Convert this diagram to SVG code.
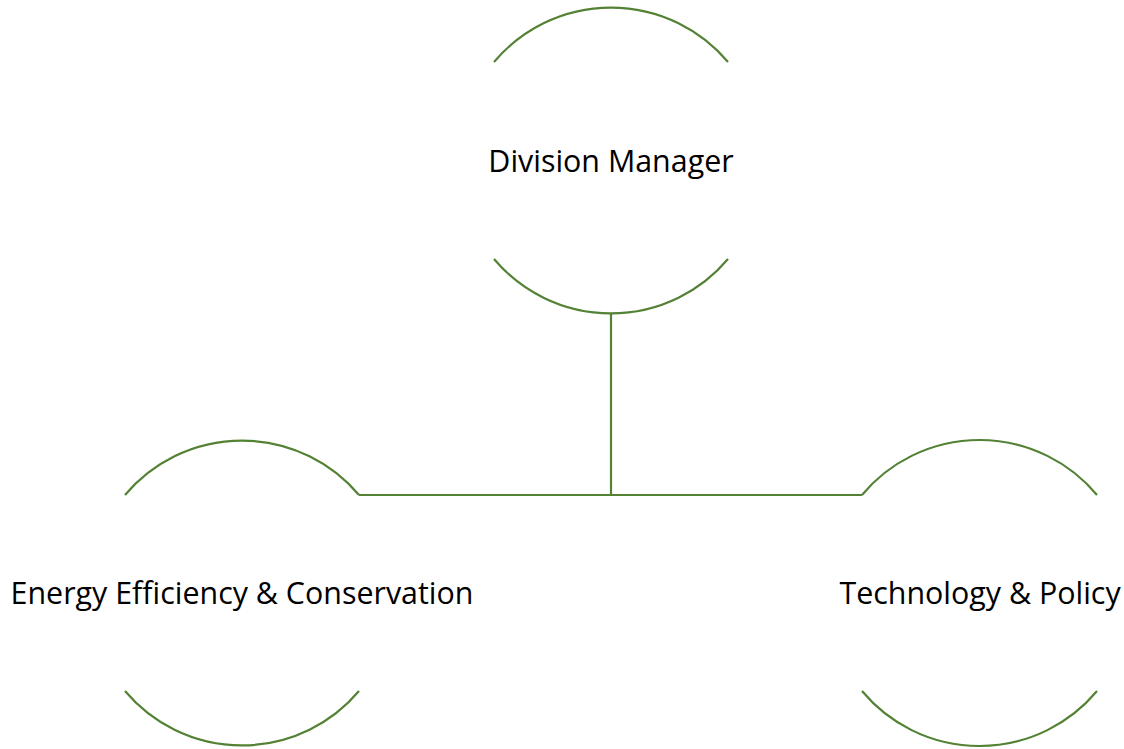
<svg xmlns="http://www.w3.org/2000/svg" width="1124" height="749" viewBox="0 0 1124 749">
<style>
.arc{fill:none;stroke:#548235;stroke-width:2.2}
.conn{fill:none;stroke:#548235;stroke-width:2.2}
.lbl{font-family:"Open Sans","Noto Sans",sans-serif;font-size:30.4px;fill:#000;text-anchor:middle}
</style>
<rect width="1124" height="749" fill="#fff"/>
<g id="connectors">
<path class="conn" d="M611 313 V495"/>
<path class="conn" d="M359 495 H862"/>
</g>
<g id="node-division-manager">
<path class="arc" d="M494 62 A153 153 0 0 1 728 62"/>
<path class="arc" d="M494 259 A153 153 0 0 0 728 259"/>
<text class="lbl" x="611" y="172">Division Manager</text>
</g>
<g id="node-energy">
<path class="arc" d="M125 495 A153 153 0 0 1 359 495"/>
<path class="arc" d="M125 691 A153 153 0 0 0 359 691"/>
<text class="lbl" x="242" y="604">Energy Efficiency &amp; Conservation</text>
</g>
<g id="node-technology">
<path class="arc" d="M862 495 A153 153 0 0 1 1097 495"/>
<path class="arc" d="M862 691 A153 153 0 0 0 1097 691"/>
<text class="lbl" x="980" y="604">Technology &amp; Policy</text>
</g>
</svg>
